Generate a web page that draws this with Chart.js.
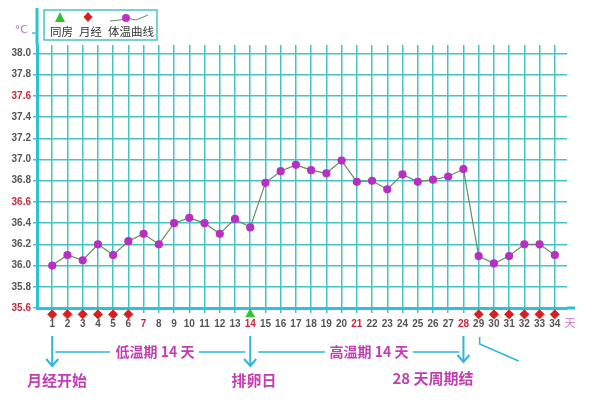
<!DOCTYPE html>
<html>
<head>
<meta charset="utf-8">
<script src="https://cdn.jsdelivr.net/npm/chart.js@4/dist/chart.umd.min.js"></script>
<style>
  html, body { margin: 0; padding: 0; background: #fff; }
  #wrap { width: 600px; height: 407px; }
</style>
</head>
<body>
<div id="wrap"><canvas id="bbt" width="600" height="407"></canvas></div>
<script>
// cycle days and basal body temperature readings (°C)
const days = [1, 2, 3, 4, 5, 6, 7, 8, 9, 10, 11, 12, 13, 14, 15, 16, 17, 18, 19, 20, 21, 22, 23, 24, 25, 26, 27, 28, 29, 30, 31, 32, 33, 34];
const temps = [36.0, 36.1, 36.05, 36.2, 36.1, 36.23, 36.3, 36.2, 36.4, 36.45, 36.4, 36.3, 36.44, 36.36,
  36.78, 36.89, 36.95, 36.9, 36.87, 36.99, 36.79, 36.8, 36.72, 36.86, 36.79, 36.81, 36.84, 36.91,
  36.09, 36.02, 36.09, 36.2, 36.2, 36.1];
const periodDays = [1, 2, 3, 4, 5, 6, 29, 30, 31, 32, 33, 34];
const intercourseDays = [14];
const markerRow = 35.54; // markers sit just under the x axis
const redDays = [7, 14, 21, 28];
const yTicks = [35.6, 35.8, 36.0, 36.2, 36.4, 36.6, 36.8, 37.0, 37.2, 37.4, 37.6, 37.8, 38.0];
const redTemps = [35.6, 36.6, 37.6];

const GRID = '#45c3c3';
const AXIS = '#2cc3d3';
const ARROW = '#2bb6dc';
const PINK = '#c23fb0';

// legend, unit, axis extensions and the notes under the chart
const extras = {
  id: 'extras',
  afterDraw(chart) {
    const ctx = chart.ctx;
    const area = chart.chartArea;
    ctx.save();

    // axes reach further than the plot
    ctx.strokeStyle = AXIS; ctx.lineWidth = 3;
    ctx.beginPath(); ctx.moveTo(area.left, area.top); ctx.lineTo(area.left, 8); ctx.stroke();
    ctx.beginPath(); ctx.moveTo(area.right, area.bottom); ctx.lineTo(575, area.bottom); ctx.stroke();
    ctx.lineWidth = 1.5; ctx.strokeStyle = GRID;
    ctx.beginPath(); ctx.moveTo(32, 33); ctx.lineTo(area.left, 33); ctx.stroke();

    ctx.font = '11px "DejaVu Sans"';
    ctx.fillStyle = '#b27ab8'; ctx.textAlign = 'right'; ctx.textBaseline = 'middle';
    ctx.fillText('°C', 28, 30);

    // legend box
    ctx.fillStyle = '#fff'; ctx.fillRect(44, 10, 113, 30);
    ctx.strokeStyle = GRID; ctx.lineWidth = 1.5; ctx.strokeRect(44, 10, 113, 30);
    ctx.fillStyle = '#2fc32f';
    ctx.beginPath(); ctx.moveTo(60, 12); ctx.lineTo(65, 22); ctx.lineTo(55, 22); ctx.closePath(); ctx.fill();
    ctx.fillStyle = '#d81e1e';
    ctx.beginPath(); ctx.moveTo(88, 12); ctx.lineTo(92.5, 17); ctx.lineTo(88, 22); ctx.lineTo(83.5, 17); ctx.closePath(); ctx.fill();
    ctx.strokeStyle = '#6b8a5f'; ctx.lineWidth = 1;
    ctx.beginPath(); ctx.moveTo(110, 21); ctx.lineTo(120, 20); ctx.lineTo(126, 18); ctx.lineTo(136, 20); ctx.lineTo(148, 15); ctx.stroke();
    ctx.fillStyle = '#c22ec8';
    ctx.beginPath(); ctx.arc(126, 18, 4, 0, Math.PI * 2); ctx.fill();
    ctx.fillStyle = '#333'; ctx.textAlign = 'left';
    ctx.font = '11.5px "Noto Sans CJK SC"';
    ctx.fillText('同房', 50, 32);
    ctx.fillText('月经', 79, 32);
    ctx.fillText('体温曲线', 108, 32);

    // unit of the x axis
    ctx.fillStyle = '#d670c8'; ctx.font = '11px "Noto Sans CJK SC"'; ctx.textAlign = 'center';
    ctx.fillText('天', 570, 323);

    // notes below the axis
    const x = chart.scales.x;
    const xs = [x.getPixelForValue(1), x.getPixelForValue(14), x.getPixelForValue(28)];
    ctx.strokeStyle = ARROW; ctx.fillStyle = ARROW; ctx.lineWidth = 2;
    xs.forEach((px, i) => {
      const end = i === 2 ? 362 : 366;
      ctx.beginPath(); ctx.moveTo(px, 336); ctx.lineTo(px, end); ctx.stroke();
      ctx.beginPath(); ctx.moveTo(px - 6, end - 7); ctx.lineTo(px, end); ctx.lineTo(px + 6, end - 7); ctx.stroke();
    });
    ctx.lineWidth = 1.5;
    const hl = (a, b) => { ctx.beginPath(); ctx.moveTo(a, 352); ctx.lineTo(b, 352); ctx.stroke(); };
    hl(xs[0] + 3, 110); hl(199, xs[1] - 5); hl(xs[1] + 8, 325); hl(413, xs[2] - 4);
    const x29 = x.getPixelForValue(29);
    ctx.beginPath(); ctx.moveTo(x29 + 1, 337); ctx.lineTo(x29 + 1, 344); ctx.lineTo(x29 + 40, 361); ctx.stroke();

    ctx.fillStyle = PINK; ctx.font = 'bold 14px "Noto Sans CJK SC"';
    ctx.textAlign = 'center'; ctx.textBaseline = 'middle';
    ctx.fillText('低温期 14 天', 155, 352);
    ctx.fillText('高温期 14 天', 369, 352);
    ctx.font = 'bold 15px "Noto Sans CJK SC"';
    ctx.fillText('月经开始', 57, 380);
    ctx.fillText('排卵日', 254, 380);
    ctx.fillText('28 天周期结', 433, 378);
    ctx.restore();
  }
};

new Chart(document.getElementById('bbt'), {
  type: 'line',
  data: {
    datasets: [
      {
        label: '体温曲线',
        data: days.map((d, i) => ({ x: d, y: temps[i] })),
        borderColor: '#6b8a5f',
        borderWidth: 1.2,
        pointBackgroundColor: '#b72fc4',
        pointBorderColor: '#b72fc4',
        pointRadius: 3.5,
        tension: 0
      },
      {
        label: '月经',
        data: periodDays.map(d => ({ x: d, y: markerRow })),
        showLine: false,
        pointStyle: 'rectRot',
        pointRadius: 4.5,
        pointHoverRadius: 12,
        pointBackgroundColor: '#d81e1e',
        pointBorderColor: '#d81e1e',
        clip: false
      },
      {
        label: '同房',
        data: intercourseDays.map(d => ({ x: d, y: markerRow })),
        showLine: false,
        pointStyle: 'triangle',
        pointRadius: 5,
        pointHoverRadius: 12,
        pointBackgroundColor: '#2fc32f',
        pointBorderColor: '#2fc32f',
        clip: false
      }
    ]
  },
  options: {
    responsive: false,
    animation: false,
    layout: { padding: { top: 45, right: 33, left: 0, bottom: 0 } },
    plugins: { legend: { display: false }, tooltip: { enabled: false } },
    scales: {
      x: {
        type: 'linear', min: 0, max: 34.8,
        afterBuildTicks: s => { s.ticks = days.map(v => ({ value: v })); },
        afterFit: s => { s.height = 99; },
        grid: { color: GRID, lineWidth: 1.5, tickLength: 5, tickColor: GRID },
        border: { color: AXIS, width: 3 },
        ticks: {
          autoSkip: false, maxRotation: 0, padding: 5,
          font: { family: 'Liberation Sans', size: 10, weight: 'bold' },
          color: c => redDays.includes(c.tick.value) ? '#c8283c' : '#555'
        }
      },
      y: {
        min: 35.6, max: 38.08,
        afterBuildTicks: s => { s.ticks = yTicks.map(v => ({ value: v })); },
        afterFit: s => { s.width = 37; },
        grid: { color: GRID, lineWidth: 1.5, tickLength: 4, tickColor: GRID },
        border: { color: AXIS, width: 3 },
        ticks: {
          padding: 2,
          font: { family: 'Liberation Sans', size: 10, weight: 'bold' },
          color: c => redTemps.includes(c.tick.value) ? '#c8283c' : '#555',
          callback: v => v.toFixed(1)
        }
      }
    }
  },
  plugins: [extras]
});
</script>
</body>
</html>
